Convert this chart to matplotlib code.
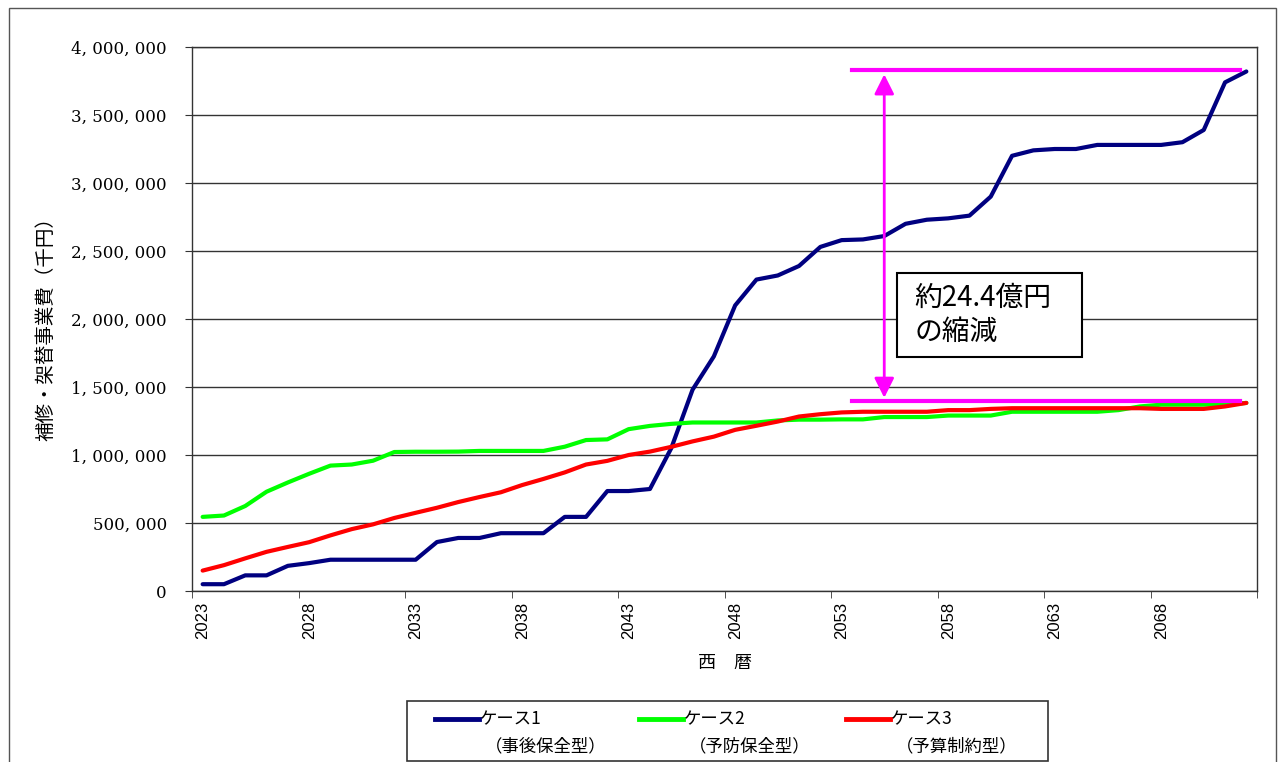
import matplotlib
matplotlib.use("Agg")
import matplotlib.pyplot as plt
from matplotlib.lines import Line2D
from matplotlib.patches import Rectangle
from matplotlib.ticker import FuncFormatter, MultipleLocator, FixedLocator

plt.rcParams["font.family"] = ["Noto Sans CJK JP", "DejaVu Sans"]
plt.rcParams["axes.unicode_minus"] = False

# 年次（西暦）
years = list(range(2023, 2073))

# ケース1（事後保全型）千円
case1 = [50000, 50000, 115000, 115000, 185000, 205000, 230000, 230000, 230000, 230000,
         230000, 360000, 390000, 390000, 425000, 425000, 425000, 545000, 545000, 735000,
         735000, 750000, 1050000, 1480000, 1725000, 2100000, 2290000, 2320000, 2390000, 2530000,
         2580000, 2585000, 2610000, 2700000, 2730000, 2740000, 2760000, 2900000, 3200000, 3240000,
         3250000, 3250000, 3280000, 3280000, 3280000, 3280000, 3300000, 3390000, 3740000, 3820000]
# ケース2（予防保全型）
case2 = [545000, 555000, 625000, 730000, 798000, 862000, 922000, 930000, 958000, 1022000,
         1024000, 1024000, 1025000, 1030000, 1030000, 1030000, 1030000, 1061000, 1110000, 1115000,
         1190000, 1214000, 1229000, 1239000, 1239000, 1239000, 1239000, 1254000, 1260000, 1260000,
         1262000, 1262000, 1279000, 1279000, 1279000, 1290000, 1290000, 1290000, 1318000, 1318000,
         1318000, 1318000, 1318000, 1330000, 1357000, 1370000, 1370000, 1370000, 1370000, 1383000]
# ケース3（予算制約型）
case3 = [150000, 190000, 240000, 288000, 324000, 359000, 409000, 455000, 490000, 537000,
         575000, 612000, 654000, 691000, 726000, 779000, 824000, 872000, 930000, 957000,
         1000000, 1025000, 1060000, 1100000, 1135000, 1185000, 1215000, 1246000, 1283000, 1300000,
         1313000, 1318000, 1318000, 1318000, 1318000, 1330000, 1330000, 1339000, 1344000, 1344000,
         1344000, 1344000, 1344000, 1344000, 1344000, 1339000, 1339000, 1339000, 1357000, 1383000]

series_labels = ["ケース1", "ケース2", "ケース3"]
series_sub = ["（事後保全型）", "（予防保全型）", "（予算制約型）"]
colorlist = ["#000080", "#00FF00", "#FF0000"]

# 縮減額の注記
gap_top = 3830000
gap_bottom = 1400000
gap_x0, gap_x1 = 2053.5, 2071.7
arrow_x = 2055
note_text = "約24.4億円\nの縮減"

fig = plt.figure(figsize=(12.84, 7.62), dpi=100)
ax = fig.add_axes([192 / 1284, 1 - 591 / 762, 1065 / 1284, 544 / 762])

for vals, c in zip([case1, case2, case3], colorlist):
    ax.plot(years, vals, color=c, lw=3, solid_capstyle="round", zorder=3)

ax.set_xlim(2022.5, 2072.5)
ax.set_ylim(0, 4000000)
ax.yaxis.set_major_locator(MultipleLocator(500000))
ax.yaxis.set_major_formatter(FuncFormatter(lambda v, p: f"{int(v):,}".replace(",", ", ")))
ax.grid(axis="y", color="#333333", lw=1.0)
ax.set_axisbelow(True)
for s in ax.spines.values():
    s.set_color("#333333")
    s.set_linewidth(1.0)

ax.xaxis.set_major_locator(FixedLocator(list(range(2023, 2069, 5))))
ax.xaxis.set_minor_locator(FixedLocator([2022.5 + 5 * k for k in range(11)]))
ax.tick_params(axis="x", which="major", length=0, pad=8, labelrotation=90)
ax.tick_params(axis="x", which="minor", length=5, direction="out", color="#333333")
ax.tick_params(axis="y", length=5, direction="out", pad=13, color="#333333")
for t in ax.get_xticklabels():
    t.set_family("Liberation Sans")
    t.set_fontsize(12)
for t in ax.get_yticklabels():
    t.set_family("DejaVu Serif")
    t.set_fontsize(12)

ax.set_ylabel("補修・架替事業費（千円）", fontsize=14)
ax.yaxis.set_label_coords(-0.127, 0.49)
ax.set_xlabel("西　暦", fontsize=13)
ax.xaxis.set_label_coords(0.5, -0.116)

# 注記（マゼンタ）
ax.plot([gap_x0, gap_x1], [gap_top, gap_top], color="#FF00FF", lw=3, zorder=4)
ax.plot([gap_x0, gap_x1], [gap_bottom, gap_bottom], color="#FF00FF", lw=3, zorder=4)
ax.annotate("", xy=(arrow_x, gap_bottom), xytext=(arrow_x, gap_top),
            arrowprops=dict(arrowstyle="<|-|>,head_length=0.6,head_width=0.3", color="#FF00FF",
                            lw=2, mutation_scale=20, shrinkA=3, shrinkB=2), zorder=4)
ax.add_patch(Rectangle((2055.6, 1720000), 8.7, 618000, facecolor="white",
                       edgecolor="black", lw=1.5, zorder=5))
ax.text(2056.4, 2030000, note_text, fontsize=20, va="center", ha="left",
        linespacing=1.2, zorder=6)

# 凡例
fig.add_artist(Rectangle((407 / 1284, 1 - 761 / 762), 641 / 1284, 60 / 762,
                         transform=fig.transFigure, facecolor="white",
                         edgecolor="#333333", lw=1.2))
for i, (lab, sub, c) in enumerate(zip(series_labels, series_sub, colorlist)):
    x0 = [435, 639, 846][i]
    fig.add_artist(Line2D([x0 / 1284, (x0 + 44) / 1284], [1 - 719 / 762] * 2,
                          transform=fig.transFigure, color=c, lw=3.5))
    fig.text((x0 + 45) / 1284, 1 - 719 / 762, lab, fontsize=12.5, va="center", ha="left")
    fig.text((x0 + 50) / 1284, 1 - 746 / 762, sub, fontsize=12.5, va="center", ha="left")

# 外枠
fig.add_artist(Rectangle((9 / 1284, -0.02), 1267 / 1284, 1.02 - 8 / 762,
                         transform=fig.transFigure, fill=False, edgecolor="#555555", lw=1.0))

fig.savefig("out.png", dpi=100)
